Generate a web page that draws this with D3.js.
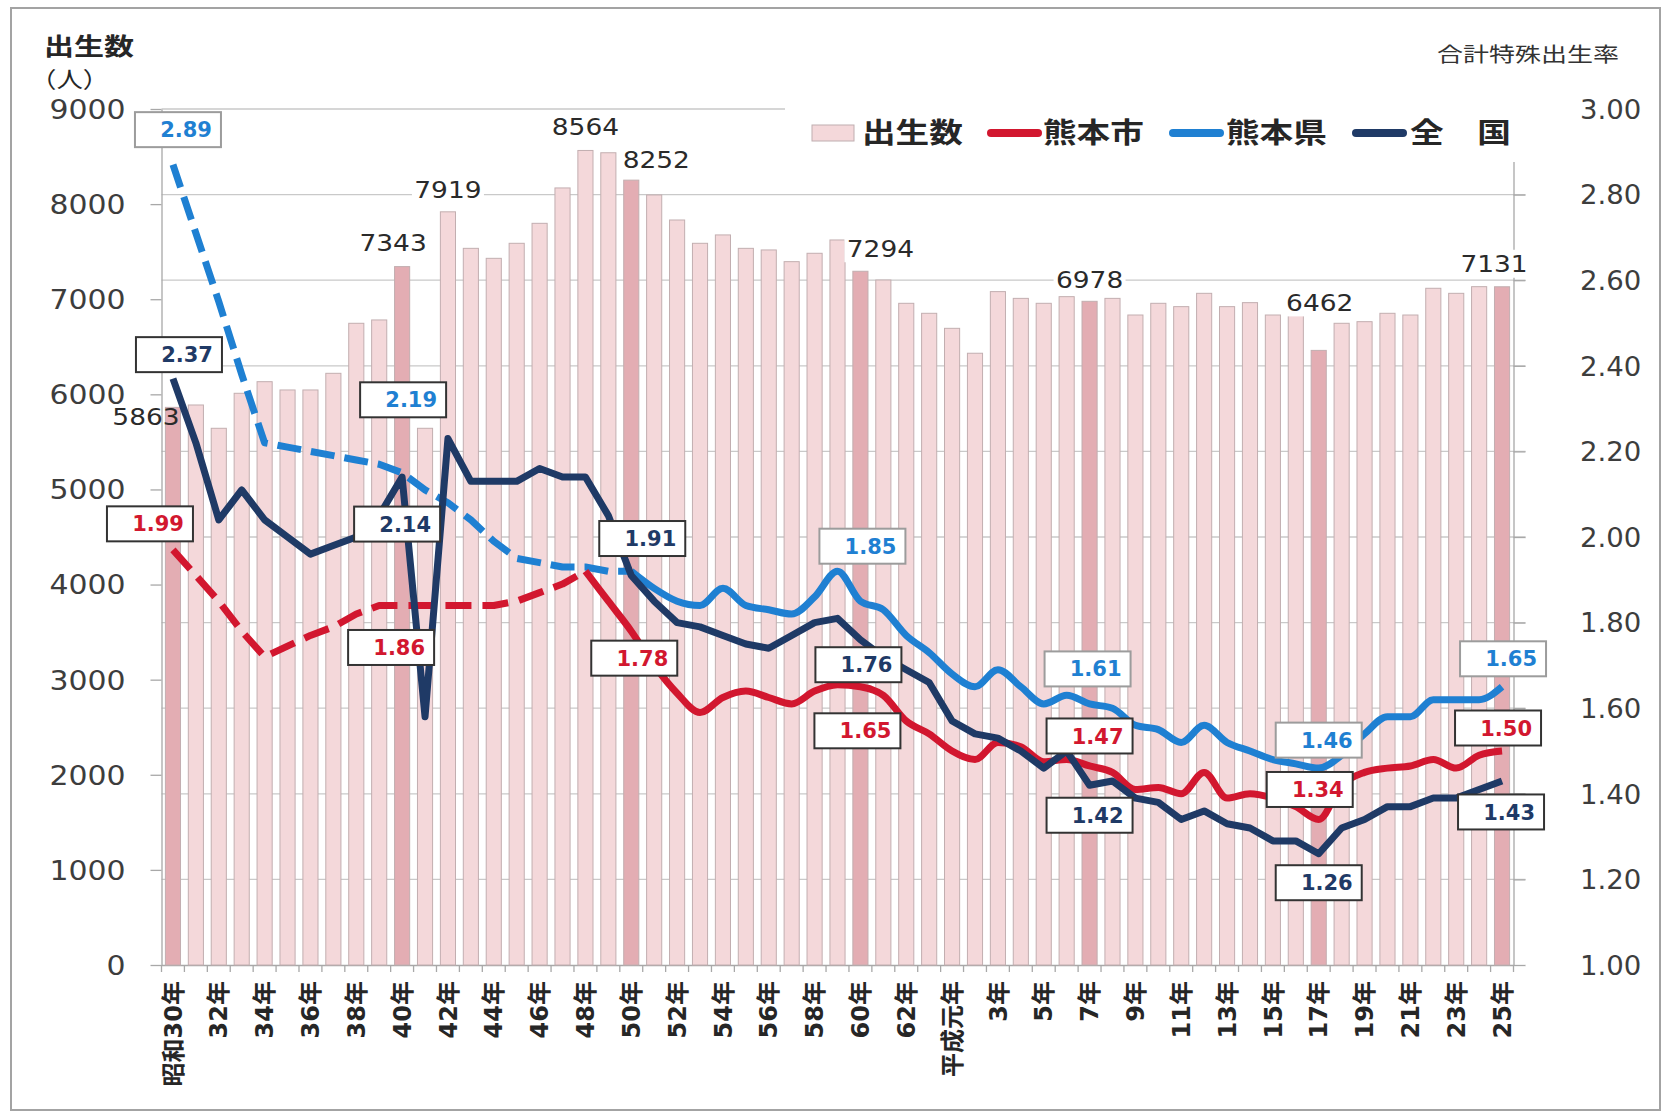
<!DOCTYPE html>
<html>
<head>
<meta charset="utf-8">
<script src="https://cdn.jsdelivr.net/npm/d3@7"></script>
<style>
body { margin: 0; background: #fff; }
text { font-family: 'DejaVu Sans', 'Noto Sans CJK JP', sans-serif; }
</style>
</head>
<body>
<svg id="chart" width="1663" height="1118"></svg>
<script>
// years: 昭和30年 .. 平成25年
var categories = ["昭和30年","昭和31年","昭和32年","昭和33年","昭和34年","昭和35年","昭和36年","昭和37年","昭和38年","昭和39年",
    "昭和40年","昭和41年","昭和42年","昭和43年","昭和44年","昭和45年","昭和46年","昭和47年","昭和48年","昭和49年",
    "昭和50年","昭和51年","昭和52年","昭和53年","昭和54年","昭和55年","昭和56年","昭和57年","昭和58年","昭和59年",
    "昭和60年","昭和61年","昭和62年","昭和63年","平成元年","平成2年","平成3年","平成4年","平成5年","平成6年",
    "平成7年","平成8年","平成9年","平成10年","平成11年","平成12年","平成13年","平成14年","平成15年","平成16年",
    "平成17年","平成18年","平成19年","平成20年","平成21年","平成22年","平成23年","平成24年","平成25年"];

// shown under every second year
var tickLabels = ["昭和30年","32年","34年","36年","38年","40年","42年","44年","46年","48年",
    "50年","52年","54年","56年","58年","60年","62年","平成元年","3年","5年",
    "7年","9年","11年","13年","15年","17年","19年","21年","23年","25年"];

// 出生数 (熊本市)
var births = [5863,5888,5643,6011,6133,6046,6046,6221,6747,6782,
    7343,5643,7919,7535,7430,7588,7798,8170,8564,8540,
    8252,8096,7833,7588,7676,7535,7518,7395,7483,7623,
    7294,7202,6957,6852,6694,6432,7080,7009,6957,7027,
    6978,7009,6834,6957,6922,7062,6922,6964,6834,6852,
    6462,6747,6764,6852,6834,7115,7062,7132,7131];

// 合計特殊出生率
var tfrCity = [1.97,1.91,1.85,1.78,1.72,1.745,1.77,1.79,1.82,1.84,
    1.84,1.84,1.84,1.84,1.84,1.85,1.87,1.89,1.92,1.85,
    1.78,1.70,1.635,1.59,1.625,1.64,1.625,1.61,1.64,1.655,
    1.65,1.63,1.57,1.54,1.50,1.48,1.52,1.51,1.475,1.48,
    1.465,1.45,1.41,1.415,1.40,1.45,1.39,1.40,1.39,1.37,
    1.34,1.42,1.45,1.46,1.465,1.48,1.46,1.49,1.50];

var tfrPref = [2.87,2.71,2.55,2.38,2.22,2.21,2.20,2.19,2.18,2.17,
    2.15,2.11,2.08,2.04,1.99,1.95,1.94,1.93,1.93,1.92,
    1.92,1.88,1.85,1.84,1.88,1.84,1.83,1.82,1.86,1.92,
    1.85,1.83,1.77,1.73,1.68,1.65,1.69,1.65,1.61,1.63,
    1.61,1.60,1.56,1.55,1.52,1.56,1.52,1.50,1.48,1.47,
    1.46,1.49,1.54,1.58,1.58,1.62,1.62,1.62,1.65];

var tfrJapan = [2.37,2.22,2.04,2.11,2.04,2.00,1.96,1.98,2.00,2.05,
    2.14,1.58,2.23,2.13,2.13,2.13,2.16,2.14,2.14,2.05,
    1.91,1.85,1.80,1.79,1.77,1.75,1.74,1.77,1.80,1.81,
    1.76,1.72,1.69,1.66,1.57,1.54,1.53,1.50,1.46,1.50,
    1.42,1.43,1.39,1.38,1.34,1.36,1.33,1.32,1.29,1.29,
    1.26,1.32,1.34,1.37,1.37,1.39,1.39,1.41,1.43];

var highlightIdx = [0, 10, 20, 30, 40, 50, 58];

// value labels, offsets from the bar top / line point
var birthNotes = [
    {i: 0, dx: -27, dy: 9, bg: false},
    {i: 10, dx: -9, dy: -24, bg: true},
    {i: 12, dx: 0, dy: -22, bg: true},
    {i: 18, dx: 0, dy: -24, bg: true},
    {i: 20, dx: 25, dy: -20, bg: true},
    {i: 30, dx: 20, dy: -23, bg: true},
    {i: 40, dx: 0, dy: -22, bg: true},
    {i: 50, dx: 1, dy: -48, bg: true},
    {i: 58, dx: -8, dy: -23, bg: true}
];

var rateNotes = [
    {s: "pref", i: 0, text: "2.89", dx: 5, dy: -35},
    {s: "japan", i: 0, text: "2.37", dx: 6, dy: -24},
    {s: "city", i: 0, text: "1.99", dx: -23, dy: -26},
    {s: "pref", i: 10, text: "2.19", dx: 1, dy: -73},
    {s: "japan", i: 10, text: "2.14", dx: -5, dy: 47},
    {s: "city", i: 10, text: "1.86", dx: -11, dy: 42},
    {s: "japan", i: 20, text: "1.91", dx: 11, dy: -37},
    {s: "city", i: 20, text: "1.78", dx: 3, dy: 27},
    {s: "pref", i: 30, text: "1.85", dx: 2, dy: -55},
    {s: "japan", i: 30, text: "1.76", dx: -2, dy: 25},
    {s: "city", i: 30, text: "1.65", dx: -3, dy: 44},
    {s: "pref", i: 40, text: "1.61", dx: -2, dy: -35},
    {s: "city", i: 40, text: "1.47", dx: 0, dy: -30},
    {s: "japan", i: 40, text: "1.42", dx: 0, dy: 30},
    {s: "pref", i: 50, text: "1.46", dx: 0, dy: -28},
    {s: "city", i: 50, text: "1.34", dx: -9, dy: -30},
    {s: "japan", i: 50, text: "1.26", dx: 0, dy: 29},
    {s: "pref", i: 58, text: "1.65", dx: 1, dy: -28},
    {s: "city", i: 58, text: "1.50", dx: -4, dy: -23},
    {s: "japan", i: 58, text: "1.43", dx: -1, dy: 31}
];

var svg = d3.select("#chart");

var plotLeft = 161.5, plotRight = 1513.5, plotTop = 109, plotBottom = 965;
var stretch = 1.15;

var x = d3.scaleBand().domain(categories).range([plotLeft, plotRight])
    .paddingInner(0.34).paddingOuter(0.17);
var yL = d3.scaleLinear().domain([0, 9000]).range([plotBottom, plotTop]);
var yR = d3.scaleLinear().domain([1, 3]).range([plotBottom, plotTop]);
function cx(i) { return x(categories[i]) + x.bandwidth() / 2; }

var colors = {city: "#d2172f", pref: "#1f80d2", japan: "#1f3a66"};
var series = {city: tfrCity, pref: tfrPref, japan: tfrJapan};

// outer frame
svg.append("rect").attr("x", 11).attr("y", 8).attr("width", 1649).attr("height", 1102)
    .attr("fill", "none").attr("stroke", "#a3a3a3").attr("stroke-width", 2);

// gridlines follow the right axis ticks
svg.append("g").selectAll("line")
    .data(yR.ticks(10).filter(function(v) { return v > 1.001; }))
    .join("line")
    .attr("x1", plotLeft).attr("x2", plotRight + 12)
    .attr("y1", function(d) { return yR(d); }).attr("y2", function(d) { return yR(d); })
    .attr("stroke", "#c9c9c9").attr("stroke-width", 1.3);

// left axis
var gL = svg.append("g").attr("transform", "translate(" + plotLeft + ",0)")
    .call(d3.axisLeft(yL).tickValues(d3.range(0, 9001, 1000)).tickFormat(d3.format("d"))
        .tickSize(11).tickSizeOuter(0));
gL.attr("font-family", null).attr("font-size", null);
gL.select(".domain").attr("stroke", "#a8a8a8").attr("stroke-width", 1.3);
gL.selectAll(".tick line").attr("stroke", "#a8a8a8").attr("stroke-width", 1.3);
gL.selectAll(".tick text").attr("x", 0).attr("dy", "0.36em")
    .attr("transform", "translate(-36,0) scale(" + stretch + ",1)")
    .attr("font-size", 26).attr("fill", "#3d3d3d");

// right axis
var gR = svg.append("g").attr("transform", "translate(" + plotRight + ",0)")
    .call(d3.axisRight(yR).tickValues(yR.ticks(10)).tickFormat(d3.format(".2f")).tickSize(12).tickSizeOuter(0));
gR.attr("font-family", null).attr("font-size", null);
gR.select(".domain").attr("stroke", "#a8a8a8").attr("stroke-width", 1.3);
gR.selectAll(".tick line").attr("stroke", "#a8a8a8").attr("stroke-width", 1.3);
gR.selectAll(".tick text").attr("x", 0).attr("dy", "0.36em")
    .attr("transform", "translate(66.5,0) scale(1.06,1)")
    .attr("font-size", 26).attr("fill", "#3d3d3d");

// bottom axis: labels under every second year, ticks between bars
var evenCats = categories.filter(function(c, i) { return i % 2 === 0; });
var gX = svg.append("g").attr("transform", "translate(0," + plotBottom + ")")
    .call(d3.axisBottom(x).tickValues(evenCats)
        .tickFormat(function(c) { return tickLabels[categories.indexOf(c) / 2]; })
        .tickSize(0).tickSizeOuter(0));
gX.attr("font-family", null).attr("font-size", null);
gX.select(".domain").attr("stroke", "#a8a8a8").attr("stroke-width", 1.3);
gX.selectAll(".tick text")
    .attr("transform", "rotate(-90)")
    .attr("x", -16).attr("y", 0).attr("dy", "0.36em")
    .attr("text-anchor", "end")
    .attr("font-size", 24).attr("font-weight", "bold").attr("fill", "#262626");

var half = x.step() * x.paddingInner() / 2;
var bounds = categories.map(function(c) { return x(c) - half; });
bounds.push(x(categories[categories.length - 1]) + x.bandwidth() + half);
gX.append("g").selectAll("line").data(bounds).join("line")
    .attr("x1", function(d) { return d; }).attr("x2", function(d) { return d; })
    .attr("y1", 0).attr("y2", 7)
    .attr("stroke", "#a8a8a8").attr("stroke-width", 1.3);

// bars
svg.append("g").selectAll("rect").data(births).join("rect")
    .attr("x", function(d, i) { return x(categories[i]); })
    .attr("y", function(d) { return yL(d); })
    .attr("width", x.bandwidth())
    .attr("height", function(d) { return yL(0) - yL(d); })
    .attr("fill", function(d, i) { return highlightIdx.indexOf(i) >= 0 ? "#e3adb3" : "#f4d8da"; })
    .attr("stroke", "#c2aeb0").attr("stroke-width", 1);

// legend background hides the grid behind it
svg.append("rect").attr("x", 785).attr("y", 100).attr("width", 750).attr("height", 62).attr("fill", "#fff");

// birth count labels
var bl = svg.append("g").selectAll("g").data(birthNotes).join("g")
    .attr("transform", function(d) {
        return "translate(" + (cx(d.i) + d.dx) + "," + (yL(births[d.i]) + d.dy) + ")";
    });
bl.filter(function(d) { return d.bg; }).append("rect")
    .attr("x", -36).attr("y", -14).attr("width", 72).attr("height", 28).attr("fill", "#fff");
bl.append("text")
    .attr("text-anchor", "middle").attr("dy", "0.36em")
    .attr("transform", "scale(" + stretch + ",1)")
    .attr("font-size", 23).attr("fill", "#2a2a2a")
    .text(function(d) { return births[d.i]; });

// lines
function line(vals, curve) {
    return d3.line()
        .x(function(d) { return cx(d.i); })
        .y(function(d) { return yR(d.v); })
        .curve(curve)(vals);
}
function pts(vals, a, b) {
    return d3.range(a, b + 1).map(function(i) { return {i: i, v: vals[i]}; });
}
var last = categories.length - 1;
var gLines = svg.append("g").attr("fill", "none").attr("stroke-width", 7)
    .attr("stroke-linejoin", "round");

// 熊本県: dashed up to 昭和50年
gLines.append("path").attr("d", line(pts(tfrPref, 0, 20), d3.curveLinear))
    .attr("stroke", colors.pref).attr("stroke-dasharray", "24,10");
gLines.append("path").attr("d", line(pts(tfrPref, 20, last), d3.curveMonotoneX))
    .attr("stroke", colors.pref);
// 熊本市: dashed up to 昭和48年
gLines.append("path").attr("d", line(pts(tfrCity, 0, 18), d3.curveLinear))
    .attr("stroke", colors.city).attr("stroke-dasharray", "26,11");
gLines.append("path").attr("d", line(pts(tfrCity, 18, last), d3.curveMonotoneX))
    .attr("stroke", colors.city);
// 全国
gLines.append("path").attr("d", line(pts(tfrJapan, 0, last), d3.curveLinear))
    .attr("stroke", colors.japan);

// rate labels
var rl = svg.append("g").selectAll("g").data(rateNotes).join("g")
    .attr("transform", function(d) {
        return "translate(" + (cx(d.i) + d.dx) + "," + (yR(series[d.s][d.i]) + d.dy) + ")";
    });
rl.append("rect")
    .attr("x", -43).attr("y", -17.5).attr("width", 86).attr("height", 35)
    .attr("fill", "#fff")
    .attr("stroke", function(d) { return d.s === "pref" && d.i !== 10 ? "#9c9c9c" : "#333"; })
    .attr("stroke-width", 2);
rl.append("text")
    .attr("x", 34).attr("dy", "0.36em").attr("text-anchor", "end")
    .attr("font-size", 21).attr("font-weight", "bold")
    .attr("fill", function(d) { return colors[d.s]; })
    .text(function(d) { return d.text; });

// legend
var legend = svg.append("g").attr("transform", "translate(0,133)");
legend.append("rect").attr("x", 812).attr("y", -8).attr("width", 42).attr("height", 16)
    .attr("fill", "#f4d8da").attr("stroke", "#bfaeb0");
var legendItems = [
    {label: "出生数", x: 862},
    {label: "熊本市", x: 1043, key: "city", x0: 991},
    {label: "熊本県", x: 1226, key: "pref", x0: 1173},
    {label: "全　国", x: 1410, key: "japan", x0: 1356}
];
legendItems.forEach(function(d) {
    if (d.key) {
        legend.append("line").attr("x1", d.x0).attr("x2", d.x0 + 47).attr("y1", 0).attr("y2", 0)
            .attr("stroke", colors[d.key]).attr("stroke-width", 8).attr("stroke-linecap", "round");
    }
    legend.append("text")
        .attr("transform", "translate(" + d.x + ",0) scale(1.2,1)")
        .attr("dy", "0.36em").attr("font-size", 28).attr("font-weight", "bold")
        .attr("fill", "#262626")
        .style("font-family", "'Noto Sans CJK JP', sans-serif")
        .text(d.label);
});

// axis titles
svg.append("text").attr("transform", "translate(44,46) scale(1.25,1)")
    .attr("dy", "0.36em").attr("font-size", 24).attr("font-weight", "bold").attr("fill", "#262626")
    .style("font-family", "'Noto Sans CJK JP', sans-serif").text("出生数");
svg.append("text").attr("transform", "translate(30,79) scale(1.2,1)")
    .attr("dy", "0.36em").attr("font-size", 22).attr("fill", "#262626")
    .style("font-family", "'Noto Sans CJK JP', sans-serif").text("（人）");
svg.append("text").attr("transform", "translate(1437,55) scale(1.3,1)")
    .attr("dy", "0.36em").attr("font-size", 20).attr("fill", "#333")
    .style("font-family", "'Noto Sans CJK JP', sans-serif").text("合計特殊出生率");
</script>
</body>
</html>
